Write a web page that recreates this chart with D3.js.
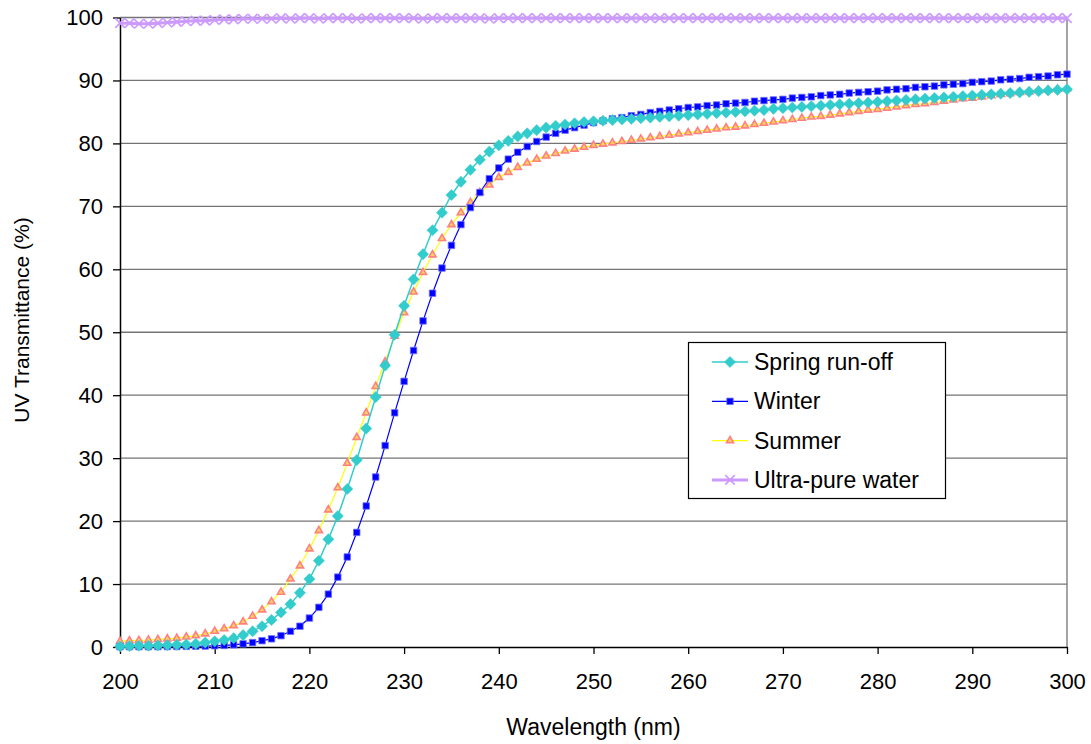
<!DOCTYPE html>
<html>
<head>
<meta charset="utf-8">
<script src="https://cdn.jsdelivr.net/npm/d3@7"></script>
<style>
  body { margin: 0; background: #fff; }
  svg text { font-family: "Liberation Sans", Arial, sans-serif; fill: #000; }
</style>
</head>
<body>
<div id="plot"></div>
<script>
// Wavelength axis, 200 to 300 nm in 1 nm steps
var wavelengths = d3.range(200, 301);

var springRunoff = [
  0.1, 0.15, 0.2, 0.2, 0.25, 0.3, 0.35, 0.4, 0.5, 0.7,
  0.9, 1.1, 1.4, 1.9, 2.5, 3.3, 4.3, 5.5, 6.8, 8.6,
  10.8, 13.7, 17.1, 20.8, 25.1, 29.7, 34.7, 39.7, 44.7, 49.6,
  54.2, 58.4, 62.4, 66.2, 69.0, 71.8, 73.9, 75.8, 77.4, 78.7,
  79.7, 80.4, 81.1, 81.6, 82.1, 82.5, 82.8, 83.0, 83.2, 83.4,
  83.5, 83.6, 83.7, 83.8, 83.9, 84.0, 84.1, 84.2, 84.3, 84.4,
  84.5, 84.6, 84.7, 84.8, 84.9, 85.0, 85.1, 85.2, 85.3, 85.5,
  85.6, 85.7, 85.8, 85.9, 86.0, 86.1, 86.2, 86.3, 86.4, 86.5,
  86.6, 86.7, 86.8, 86.9, 87.0, 87.1, 87.2, 87.3, 87.4, 87.5,
  87.6, 87.7, 87.8, 87.9, 88.0, 88.1, 88.2, 88.3, 88.4, 88.5,
  88.6
];

var winter = [
  0.05, 0.05, 0.05, 0.05, 0.06, 0.07, 0.08, 0.1, 0.12, 0.15,
  0.2, 0.25, 0.35, 0.5, 0.7, 1.0, 1.3, 1.8, 2.5, 3.3,
  4.6, 6.3, 8.4, 11.1, 14.3, 18.2, 22.4, 27.0, 32.0, 37.2,
  42.2, 47.1, 51.8, 56.2, 60.2, 63.8, 67.1, 69.8, 72.2, 74.4,
  76.1, 77.5, 78.6, 79.5, 80.3, 81.0, 81.6, 82.1, 82.5, 82.9,
  83.3, 83.6, 83.9, 84.1, 84.4, 84.6, 84.9, 85.1, 85.3, 85.5,
  85.7, 85.8, 86.0, 86.1, 86.3, 86.4, 86.5, 86.7, 86.8, 86.9,
  87.0, 87.2, 87.3, 87.4, 87.6, 87.7, 87.8, 88.0, 88.1, 88.2,
  88.3, 88.5, 88.6, 88.7, 88.9, 89.0, 89.1, 89.3, 89.4, 89.5,
  89.7, 89.8, 89.9, 90.1, 90.2, 90.3, 90.5, 90.6, 90.7, 90.9,
  91.0
];

var summer = [
  0.9, 1.0, 1.05, 1.1, 1.2, 1.3, 1.4, 1.6, 1.8, 2.1,
  2.5, 2.9, 3.4, 4.0, 4.9, 5.9, 7.2, 8.7, 10.8, 12.9,
  15.6, 18.5, 21.8, 25.3, 29.2, 33.3, 37.2, 41.4, 45.3, 49.4,
  53.1, 56.4, 59.5, 62.3, 64.9, 67.1, 69.0, 70.6, 72.2, 73.4,
  74.6, 75.4, 76.2, 76.9, 77.5, 78.0, 78.4, 78.8, 79.1, 79.4,
  79.7, 79.9, 80.1, 80.3, 80.5, 80.7, 80.9, 81.1, 81.3, 81.5,
  81.7, 81.9, 82.1, 82.3, 82.5, 82.6, 82.8, 83.0, 83.2, 83.4,
  83.6, 83.8, 84.0, 84.2, 84.3, 84.5, 84.7, 84.9, 85.1, 85.3,
  85.4, 85.6, 85.8, 86.0, 86.2, 86.3, 86.5, 86.7, 86.9, 87.1,
  87.2, 87.4, 87.6, 87.8, 87.9, 88.1, 88.2, 88.4, 88.5, 88.6,
  88.7
];

var ultraPure = [
  99.1, 99.1, 99.0, 99.0, 99.1, 99.2, 99.3, 99.4, 99.5, 99.5,
  99.6, 99.7, 99.7, 99.8, 99.8, 99.8, 99.8, 99.9, 99.8, 99.9,
  99.9, 99.8, 99.9, 99.9, 99.9, 99.8, 99.9, 99.9, 99.9, 99.9,
  99.9, 99.9, 99.8, 99.9, 99.9, 99.9, 99.9, 99.9, 99.9, 99.8,
  99.9, 99.9, 99.9, 99.9, 99.9, 99.9, 99.9, 99.9, 99.9, 99.9,
  99.9, 99.9, 99.9, 99.9, 99.9, 99.9, 99.9, 99.9, 99.9, 99.9,
  99.9, 99.9, 99.9, 99.9, 99.9, 99.9, 99.9, 99.9, 99.9, 99.9,
  99.9, 99.9, 99.9, 99.9, 99.9, 99.9, 99.9, 99.9, 99.9, 99.9,
  99.9, 99.9, 99.9, 99.9, 99.9, 99.9, 99.9, 99.9, 99.9, 99.9,
  99.9, 99.9, 99.9, 99.9, 99.9, 99.9, 99.9, 99.9, 99.9, 99.9,
  99.9
];

var xTicks = [200, 210, 220, 230, 240, 250, 260, 270, 280, 290, 300];
var yTicks = [0, 10, 20, 30, 40, 50, 60, 70, 80, 90, 100];

var seriesNames = ["Spring run-off", "Winter", "Summer", "Ultra-pure water"];

// Size of the svg and the plot area inside it
var svgWidth = 1091;
var svgHeight = 744;
const margin = {top: 17.5, right: 24, bottom: 97, left: 120};
var chartWidth = svgWidth - margin.left - margin.right;
var chartHeight = svgHeight - margin.top - margin.bottom;

var svg = d3.select("#plot")
  .append("svg")
  .attr("width", svgWidth)
  .attr("height", svgHeight);

var g = svg.append("g")
  .attr("transform", "translate(" + margin.left + "," + margin.top + ")");

var scaleX = d3.scaleLinear().domain([200, 300]).range([0, chartWidth]);
var scaleY = d3.scaleLinear().domain([0, 100]).range([chartHeight, 0]);

// Horizontal gridlines
g.append("g")
  .selectAll("line")
  .data(yTicks.filter(function(d) { return d > 0; }))
  .enter()
  .append("line")
  .attr("x1", 0)
  .attr("x2", chartWidth)
  .attr("y1", function(d) { return scaleY(d); })
  .attr("y2", function(d) { return scaleY(d); })
  .attr("stroke", "#747474")
  .attr("stroke-width", 1.3);

// Right edge of the plot area
g.append("line")
  .attr("x1", chartWidth)
  .attr("x2", chartWidth)
  .attr("y1", 0)
  .attr("y2", chartHeight)
  .attr("stroke", "#747474")
  .attr("stroke-width", 1.3);

// Axes
var xAxis = g.append("g")
  .attr("transform", "translate(0," + chartHeight + ")")
  .call(d3.axisBottom(scaleX).tickValues(xTicks).tickSize(7).tickPadding(19).tickSizeOuter(0));

var yAxis = g.append("g")
  .call(d3.axisLeft(scaleY).tickValues(yTicks).tickSize(7).tickPadding(10).tickSizeOuter(0));

[xAxis, yAxis].forEach(function(ax) {
  ax.attr("font-size", null).attr("font-family", null);
  ax.select(".domain").attr("stroke", "#000").attr("stroke-width", 1.5);
  ax.selectAll(".tick line").attr("stroke", "#000").attr("stroke-width", 1.3);
  ax.selectAll(".tick text")
    .style("font-family", "'Liberation Sans', Arial, sans-serif")
    .style("font-size", "22px")
    .attr("fill", "#000");
});

// Axis titles
svg.append("text")
  .attr("x", margin.left + chartWidth / 2)
  .attr("y", 735)
  .attr("text-anchor", "middle")
  .style("font-size", "23px")
  .text("Wavelength (nm)");

svg.append("text")
  .attr("transform", "translate(29,320) rotate(-90)")
  .attr("text-anchor", "middle")
  .style("font-size", "21px")
  .text("UV Transmittance (%)");

// Marker shapes and colours for each series
var seriesStyle = [
  {values: springRunoff, line: "#33CCCC", width: 1.5, symbol: d3.symbolDiamond2, size: 80, fill: "#33CCCC", stroke: "#33CCCC", sw: 0.5},
  {values: winter, line: "#0000FF", width: 1.2, symbol: d3.symbolSquare, size: 42, fill: "#0000FF", stroke: "#7070FF", sw: 0.8},
  {values: summer, line: "#FFFF00", width: 1.2, symbol: d3.symbolTriangle, size: 22, fill: "#FFD060", stroke: "#FF8080", sw: 1.6},
  {values: ultraPure, line: "#CC99FF", width: 3, symbol: d3.symbolTimes, size: 60, fill: "none", stroke: "#CC99FF", sw: 1.6}
];

var lineGen = d3.line()
  .x(function(d) { return scaleX(d[0]); })
  .y(function(d) { return scaleY(d[1]); });

// Draw series last to first so spring run-off sits on top
for (var s = seriesStyle.length - 1; s >= 0; s--) {
  var st = seriesStyle[s];
  var pts = wavelengths.map(function(w, i) { return [w, st.values[i]]; });

  g.append("path")
    .datum(pts)
    .attr("d", lineGen)
    .attr("fill", "none")
    .attr("stroke", st.line)
    .attr("stroke-width", st.width);

  g.append("g")
    .selectAll("path")
    .data(pts)
    .enter()
    .append("path")
    .attr("d", d3.symbol().type(st.symbol).size(st.size))
    .attr("transform", function(d) { return "translate(" + scaleX(d[0]) + "," + scaleY(d[1]) + ")"; })
    .attr("fill", st.fill)
    .attr("stroke", st.stroke)
    .attr("stroke-width", st.sw);
}

// Legend
var legend = svg.append("g").attr("transform", "translate(688,342)");

legend.append("rect")
  .attr("x", 0.5)
  .attr("y", 0.5)
  .attr("width", 257)
  .attr("height", 156)
  .attr("fill", "#fff")
  .attr("stroke", "#000")
  .attr("stroke-width", 1.2);

seriesNames.forEach(function(name, i) {
  var st = seriesStyle[i];
  var row = legend.append("g").attr("transform", "translate(0," + (20 + i * 39.3) + ")");
  row.append("line")
    .attr("x1", 24)
    .attr("x2", 60)
    .attr("stroke", st.line)
    .attr("stroke-width", st.width);
  row.append("path")
    .attr("d", d3.symbol().type(st.symbol).size(st.size))
    .attr("transform", "translate(42,0)")
    .attr("fill", st.fill)
    .attr("stroke", st.stroke)
    .attr("stroke-width", st.sw);
  row.append("text")
    .attr("x", 66)
    .attr("y", 8)
    .style("font-size", "23px")
    .text(name);
});
</script>
</body>
</html>
